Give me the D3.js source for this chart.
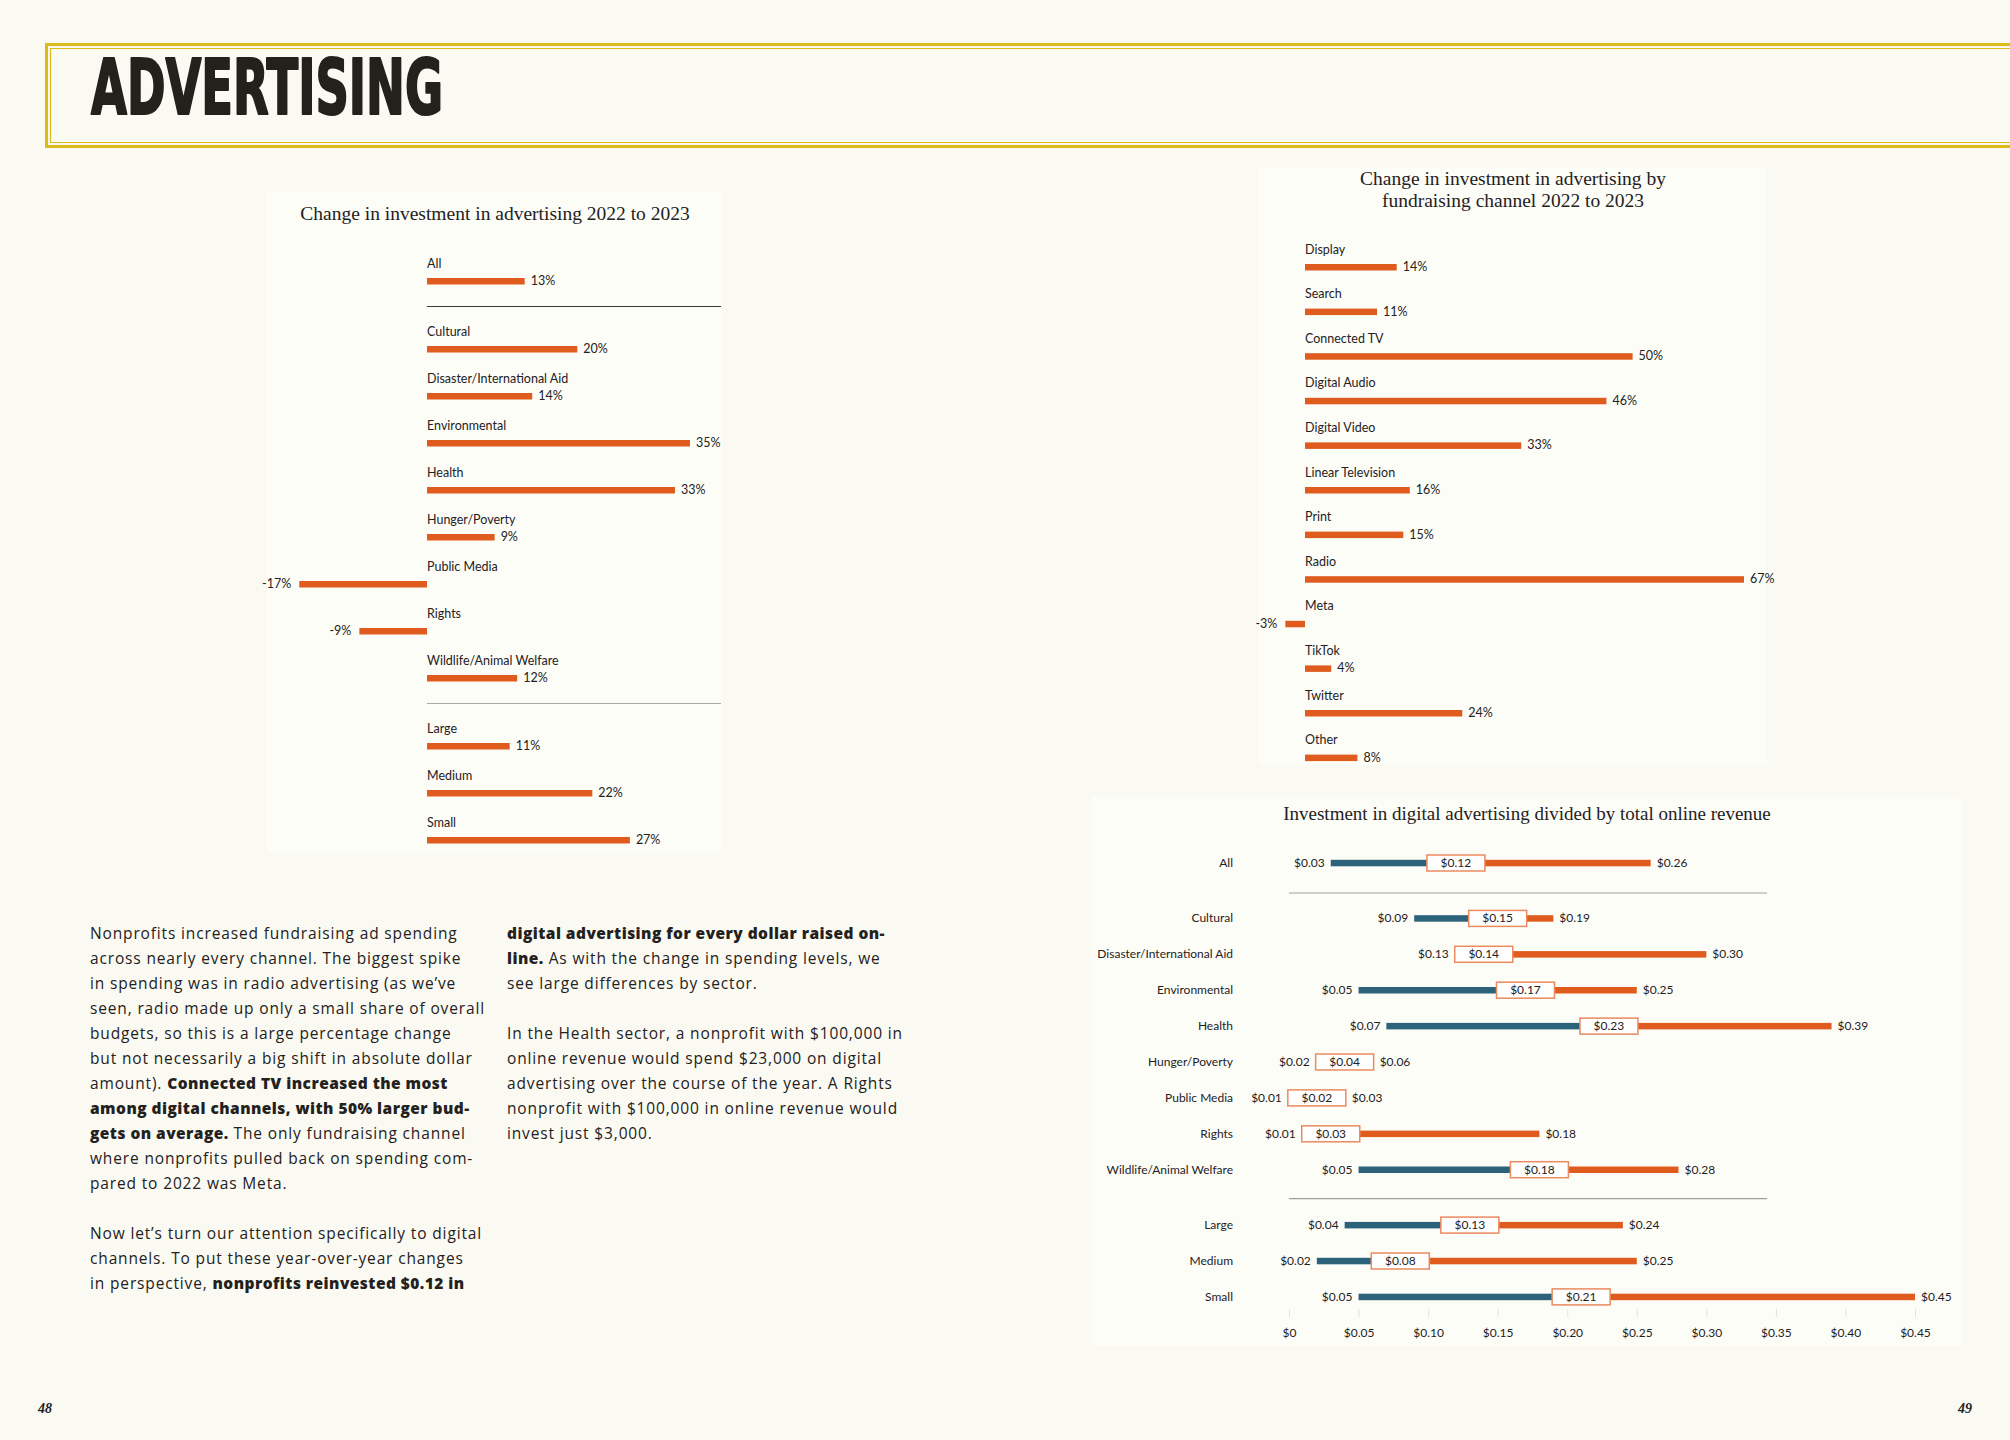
<!DOCTYPE html>
<html>
<head>
<meta charset="utf-8">
<script src="https://cdn.jsdelivr.net/npm/d3@7"></script>
<style>
  body { margin: 0; background: #fafaf2; }
  svg { display: block; }
</style>
</head>
<body>
<svg id="page" width="2010" height="1440"></svg>
<script>
// ---- data ----
const sectorNames = ["All", "Cultural", "Disaster/International Aid", "Environmental", "Health",
  "Hunger/Poverty", "Public Media", "Rights", "Wildlife/Animal Welfare", "Large", "Medium", "Small"];
const sectorGroups = [0, 1, 1, 1, 1, 1, 1, 1, 1, 2, 2, 2];
const sectorChange = [13, 20, 14, 35, 33, 9, -17, -9, 12, 11, 22, 27];

const channelNames = ["Display", "Search", "Connected TV", "Digital Audio", "Digital Video",
  "Linear Television", "Print", "Radio", "Meta", "TikTok", "Twitter", "Other"];
const channelChange = [14, 11, 50, 46, 33, 16, 15, 67, -3, 4, 24, 8];

const ratioLow  = [0.03, 0.09, 0.13, 0.05, 0.07, 0.02, 0.01, 0.01, 0.05, 0.04, 0.02, 0.05];
const ratioMid  = [0.12, 0.15, 0.14, 0.17, 0.23, 0.04, 0.02, 0.03, 0.18, 0.13, 0.08, 0.21];
const ratioHigh = [0.26, 0.19, 0.30, 0.25, 0.39, 0.06, 0.03, 0.18, 0.28, 0.24, 0.25, 0.45];
const ratioTicks = [0, 0.05, 0.10, 0.15, 0.20, 0.25, 0.30, 0.35, 0.40, 0.45];

const ORANGE = "#e05c1e";
const BLUE = "#2c627a";
const INK = "#24211d";
const SANS = "Lato, 'Open Sans', sans-serif";
const SERIF = "'Liberation Serif', 'DejaVu Serif', serif";

const svg = d3.select("#page");

// page + heading box
svg.append("rect").attr("width", 2010).attr("height", 1440).attr("fill", "#fafaf2");

const gold = "#dbbb19";
svg.append("path")
  .attr("d", "M2010,44.5 H46.5 V146.5 H2010")
  .attr("fill", "none").attr("stroke", gold).attr("stroke-width", 3);
svg.append("path")
  .attr("d", "M2010,48.5 H50.5 V142.5 H2010")
  .attr("fill", "none").attr("stroke", gold).attr("stroke-width", 1.2);

svg.append("text")
  .attr("x", 91).attr("y", 114)
  .attr("font-family", "'Liberation Sans Narrow', 'DejaVu Sans Condensed', sans-serif")
  .attr("font-weight", 700)
  .attr("font-size", 77)
  .attr("textLength", 352)
  .attr("lengthAdjust", "spacingAndGlyphs")
  .attr("fill", INK)
  .attr("stroke", INK).attr("stroke-width", 2.2).attr("stroke-linejoin", "round")
  .text("ADVERTISING");

// chart panels (slightly lighter than page)
const panels = [[267, 192, 455, 660], [1259, 167, 508, 598], [1092, 797, 870, 549]];
svg.selectAll("rect.panel").data(panels).enter().append("rect")
  .attr("class", "panel")
  .attr("x", d => d[0]).attr("y", d => d[1])
  .attr("width", d => d[2]).attr("height", d => d[3])
  .attr("fill", "#fdfdf8");

function drawTitle(lines, cx, y0, fs) {
  svg.append("text")
    .attr("text-anchor", "middle")
    .attr("font-family", SERIF).attr("font-size", fs).attr("fill", INK)
    .selectAll("tspan").data(lines).enter().append("tspan")
    .attr("x", cx).attr("y", (d, i) => y0 + i * 22)
    .text(d => d);
}

// horizontal bar chart with label above each bar
function drawBarChart(names, values, groups, cfg) {
  const g = svg.append("g");
  const x = d3.scaleLinear().domain([0, d3.max(values)]).range([cfg.x0, cfg.xMax]);
  const rows = names.map((n, i) => ({ name: n, value: values[i], slot: i + groups[i] * cfg.gap }));
  const y = d3.scaleLinear().domain([0, 1]).range([cfg.y0, cfg.y0 + cfg.step]);

  g.selectAll("rect.bar").data(rows).enter().append("rect")
    .attr("class", "bar")
    .attr("x", d => x(Math.min(0, d.value)))
    .attr("y", d => y(d.slot))
    .attr("width", d => Math.abs(x(d.value) - x(0)))
    .attr("height", 6.5)
    .attr("fill", ORANGE);

  g.selectAll("text.name").data(rows).enter().append("text")
    .attr("class", "name")
    .attr("x", x(0)).attr("y", d => y(d.slot) - 10.5)
    .attr("font-family", SANS).attr("font-size", cfg.fs).attr("fill", INK)
    .text(d => d.name);

  g.selectAll("text.val").data(rows).enter().append("text")
    .attr("class", "val")
    .attr("x", d => d.value >= 0 ? x(d.value) + 6 : x(d.value) - 8)
    .attr("y", d => y(d.slot) + 7)
    .attr("text-anchor", d => d.value >= 0 ? "start" : "end")
    .attr("font-family", SANS).attr("font-size", cfg.fs).attr("fill", INK)
    .text(d => d.value + "%");

  // separators between groups
  const seps = [];
  rows.forEach((d, i) => {
    if (i > 0 && groups[i] !== groups[i - 1]) seps.push({ y: y(rows[i - 1].slot) + 28.5, k: seps.length });
  });
  g.selectAll("line.sep").data(seps).enter().append("line")
    .attr("x1", x(0)).attr("x2", cfg.sepEnd)
    .attr("y1", d => d.y).attr("y2", d => d.y)
    .attr("stroke", d => d.k === 0 ? "#3a3a3a" : "#a8a8a8")
    .attr("stroke-width", 1.2);
}

drawTitle(["Change in investment in advertising 2022 to 2023"], 495, 220, 19.5);
drawBarChart(sectorNames, sectorChange, sectorGroups,
  { x0: 427, xMax: 690, y0: 278, step: 47, gap: 21 / 47, fs: 12.5, sepEnd: 721 });

drawTitle(["Change in investment in advertising by", "fundraising channel 2022 to 2023"], 1513, 185, 19.5);
drawBarChart(channelNames, channelChange, channelNames.map(() => 0),
  { x0: 1305, xMax: 1744, y0: 264, step: 44.6, gap: 0, fs: 12.5, sepEnd: 1305 });

// ---- dumbbell chart: digital ad investment / online revenue ----
drawTitle(["Investment in digital advertising divided by total online revenue"], 1527, 820, 19);

const dx = d3.scaleLinear().domain([0, 0.45]).range([1289, 1915]);
const dy = d3.scaleLinear().domain([0, 1]).range([863, 863 + 35.9]);
const ratioRows = sectorNames.map((n, i) => ({
  name: n, low: ratioLow[i], mid: ratioMid[i], high: ratioHigh[i],
  slot: i + sectorGroups[i] * 19.5 / 35.9
}));
const money = v => v === 0 ? "$0" : "$" + v.toFixed(2);
const boxW = 58, boxH = 16;

const dg = svg.append("g").attr("font-family", SANS).attr("font-size", 12).attr("fill", INK);

dg.selectAll("text.cat").data(ratioRows).enter().append("text")
  .attr("x", 1233).attr("y", d => dy(d.slot) + 4)
  .attr("text-anchor", "end")
  .text(d => d.name);

dg.selectAll("rect.low").data(ratioRows).enter().append("rect")
  .attr("x", d => dx(d.low)).attr("y", d => dy(d.slot) - 3.2)
  .attr("width", d => dx(d.mid) - dx(d.low)).attr("height", 6.5)
  .attr("fill", BLUE);

dg.selectAll("rect.high").data(ratioRows).enter().append("rect")
  .attr("x", d => dx(d.mid)).attr("y", d => dy(d.slot) - 3.2)
  .attr("width", d => dx(d.high) - dx(d.mid)).attr("height", 6.5)
  .attr("fill", ORANGE);

dg.selectAll("rect.box").data(ratioRows).enter().append("rect")
  .attr("x", d => dx(d.mid) - boxW / 2).attr("y", d => dy(d.slot) - boxH / 2)
  .attr("width", boxW).attr("height", boxH)
  .attr("fill", "#ffffff").attr("stroke", "#ea8a60").attr("stroke-width", 1.5);

dg.selectAll("text.mid").data(ratioRows).enter().append("text")
  .attr("x", d => dx(d.mid)).attr("y", d => dy(d.slot) + 4)
  .attr("text-anchor", "middle")
  .text(d => money(d.mid));

dg.selectAll("text.low").data(ratioRows).enter().append("text")
  .attr("x", d => Math.min(dx(d.low), dx(d.mid) - boxW / 2) - 6).attr("y", d => dy(d.slot) + 4)
  .attr("text-anchor", "end")
  .text(d => money(d.low));

dg.selectAll("text.high").data(ratioRows).enter().append("text")
  .attr("x", d => Math.max(dx(d.high), dx(d.mid) + boxW / 2) + 6).attr("y", d => dy(d.slot) + 4)
  .text(d => money(d.high));

// group separators
const ratioSeps = [dy(ratioRows[0].slot) + 30, dy(ratioRows[8].slot) + 29];
dg.selectAll("line.sep").data(ratioSeps).enter().append("line")
  .attr("x1", 1289).attr("x2", 1767)
  .attr("y1", d => d).attr("y2", d => d)
  .attr("stroke", "#a0a0a0").attr("stroke-width", 1.2);

const axis = svg.append("g")
  .attr("transform", "translate(0,1309)")
  .call(d3.axisBottom(dx).tickValues(ratioTicks).tickFormat(money).tickSize(8).tickPadding(11));
axis.select(".domain").remove();
axis.selectAll(".tick line").attr("stroke", "#e2e2dc");
axis.selectAll(".tick text").attr("font-family", SANS).attr("font-size", 12).attr("fill", INK);

// ---- body copy ----
const col1 = [
  [["Nonprofits increased fundraising ad spending", 0]],
  [["across nearly every channel. The biggest spike", 0]],
  [["in spending was in radio advertising (as we’ve", 0]],
  [["seen, radio made up only a small share of overall", 0]],
  [["budgets, so this is a large percentage change", 0]],
  [["but not necessarily a big shift in absolute dollar", 0]],
  [["amount). ", 0], ["Connected TV increased the most", 1]],
  [["among digital channels, with 50% larger bud-", 1]],
  [["gets on average.", 1], [" The only fundraising channel", 0]],
  [["where nonprofits pulled back on spending com-", 0]],
  [["pared to 2022 was Meta.", 0]],
  [],
  [["Now let’s turn our attention specifically to digital", 0]],
  [["channels. To put these year-over-year changes", 0]],
  [["in perspective, ", 0], ["nonprofits reinvested $0.12 in", 1]]
];
const col2 = [
  [["digital advertising for every dollar raised on-", 1]],
  [["line.", 1], [" As with the change in spending levels, we", 0]],
  [["see large differences by sector.", 0]],
  [],
  [["In the Health sector, a nonprofit with $100,000 in", 0]],
  [["online revenue would spend $23,000 on digital", 0]],
  [["advertising over the course of the year. A Rights", 0]],
  [["nonprofit with $100,000 in online revenue would", 0]],
  [["invest just $3,000.", 0]]
];

function drawColumn(lines, x0, y0) {
  const t = svg.append("g")
    .attr("font-family", "'Open Sans', Lato, sans-serif").attr("font-size", 15.5).attr("fill", INK);
  lines.forEach((segs, i) => {
    if (!segs.length) return;
    const line = t.append("text").attr("x", x0).attr("y", y0 + i * 25).attr("xml:space", "preserve");
    segs.forEach(s => line.append("tspan")
      .attr("font-weight", s[1] ? 800 : 400)
      .attr("letter-spacing", s[1] ? 0.45 : 0.85)
      .text(s[0]));
  });
}
drawColumn(col1, 90, 939);
drawColumn(col2, 507, 939);

// page numbers
svg.append("text").attr("x", 38).attr("y", 1413)
  .attr("font-family", SERIF).attr("font-style", "italic").attr("font-weight", 700)
  .attr("font-size", 14).attr("fill", INK).text("48");
svg.append("text").attr("x", 1972).attr("y", 1413).attr("text-anchor", "end")
  .attr("font-family", SERIF).attr("font-style", "italic").attr("font-weight", 700)
  .attr("font-size", 14).attr("fill", INK).text("49");
</script>
</body>
</html>
